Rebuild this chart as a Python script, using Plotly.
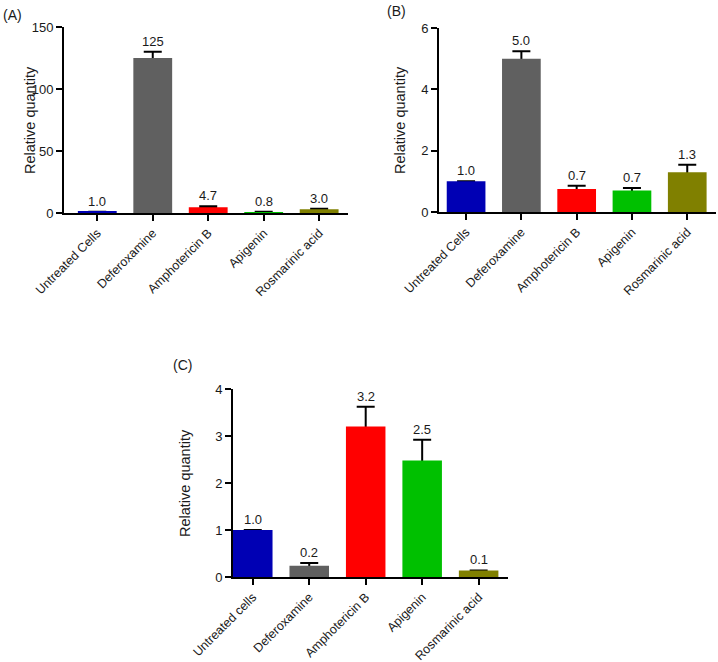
import plotly.graph_objects as go

# treatment groups (panel C writes "cells" in lower case)
groups_ab = ["Untreated Cells", "Deferoxamine", "Amphotericin B", "Apigenin", "Rosmarinic acid"]
groups_c = ["Untreated cells", "Deferoxamine", "Amphotericin B", "Apigenin", "Rosmarinic acid"]
bar_colors = ["#0000b4", "#606060", "#ff0000", "#00c000", "#808000"]

# panel A
mean_a = [1.0, 125, 4.7, 0.8, 3.0]
err_a = [None, 5, 0.8, 0.2, 0.4]
label_a = ["1.0", "125", "4.7", "0.8", "3.0"]

# panel B
mean_b = [1.0, 5.0, 0.75, 0.7, 1.3]
err_b = [None, 0.24, 0.11, 0.08, 0.24]
label_b = ["1.0", "5.0", "0.7", "0.7", "1.3"]

# panel C
mean_c = [1.0, 0.24, 3.2, 2.48, 0.14]
err_c = [None, 0.06, 0.42, 0.44, None]
label_c = ["1.0", "0.2", "3.2", "2.5", "0.1"]

W, H = 718, 662
FONT = "Arial, Liberation Sans, sans-serif"
TXT = "#1a1a1a"


def px_x(v):
    return v / W


def px_y(v):
    return 1 - v / H


# pixel boxes of each plot area: (left, right, top, bottom)
panels = [
    dict(name="(A)", cats=groups_ab, mean=mean_a, err=err_a, labels=label_a,
         box=(64, 348, 27, 213), yrange=[0, 150], dtick=50, xrange=[-0.6, 4.52],
         tag=(1, 15), title_x=30),
    dict(name="(B)", cats=groups_ab, mean=mean_b, err=err_b, labels=label_b,
         box=(439, 716, 28, 212), yrange=[0, 6], dtick=2, xrange=[-0.49, 4.52],
         tag=(385, 11), title_x=400),
    dict(name="(C)", cats=groups_c, mean=mean_c, err=err_c, labels=label_c,
         box=(233, 508, 389, 577), yrange=[0, 4], dtick=1, xrange=[-0.35, 4.52],
         tag=(171, 365), title_x=185),
]

fig = go.Figure()
annotations = []

for i, p in enumerate(panels, start=1):
    sfx = "" if i == 1 else str(i)
    xa, ya = "x" + sfx, "y" + sfx
    xo, yo = "x" + str(i + 3), "y" + str(i + 3)   # overlay axes for the bars
    l, r, t, b = p["box"]

    # error bars underneath (lower half hidden behind the bar)
    fig.add_trace(go.Scatter(
        x=p["cats"], y=p["mean"], xaxis=xa, yaxis=ya, mode="markers",
        marker=dict(size=1, opacity=0),
        error_y=dict(type="data", array=p["err"], symmetric=True,
                     color="black", thickness=2, width=9),
        showlegend=False, hoverinfo="skip",
    ))
    fig.add_trace(go.Bar(
        x=p["cats"], y=p["mean"], xaxis=xo, yaxis=yo,
        marker=dict(color=bar_colors, line=dict(width=0)),
        showlegend=False,
    ))

    # value labels above each bar / error cap
    for c, m, e, txt in zip(p["cats"], p["mean"], p["err"], p["labels"]):
        annotations.append(dict(
            x=c, y=m + (e or 0), xref=xa, yref=ya, text=txt, showarrow=False,
            yanchor="bottom", yshift=1, font=dict(family=FONT, size=13, color=TXT),
        ))

    # panel letter
    annotations.append(dict(
        x=px_x(p["tag"][0]), y=px_y(p["tag"][1]), xref="paper", yref="paper",
        text=p["name"], showarrow=False, xanchor="left", yanchor="middle",
        font=dict(family=FONT, size=14, color=TXT),
    ))

    # y-axis title
    annotations.append(dict(
        x=px_x(p["title_x"]), y=px_y((t + b) / 2), xref="paper", yref="paper",
        text="Relative quantity", textangle=-90, showarrow=False,
        xanchor="center", yanchor="middle",
        font=dict(family=FONT, size=14.5, color=TXT),
    ))

    xdom = [px_x(l), px_x(r)]
    ydom = [px_y(b), px_y(t)]
    fig.update_layout({
        "xaxis" + sfx: dict(
            domain=xdom, anchor=ya, range=p["xrange"], type="category", automargin=False,
            showline=True, linecolor="black", linewidth=2, ticks="outside",
            ticklen=6, tickwidth=2, tickcolor="black", tickangle=-45,
            tickfont=dict(family=FONT, size=12.5, color=TXT), showgrid=False, zeroline=False,
        ),
        "yaxis" + sfx: dict(
            domain=ydom, anchor=xa, range=p["yrange"], dtick=p["dtick"], automargin=False,
            showline=True, linecolor="black", linewidth=2, ticks="outside",
            ticklen=6, tickwidth=2, tickcolor="black",
            tickfont=dict(family=FONT, size=13, color=TXT), showgrid=False, zeroline=False,
        ),
        "xaxis" + str(i + 3): dict(
            domain=xdom, anchor=yo, overlaying=xa, range=p["xrange"], type="category",
            visible=False, automargin=False,
        ),
        "yaxis" + str(i + 3): dict(
            domain=ydom, anchor=xo, overlaying=ya, range=p["yrange"],
            visible=False, automargin=False,
        ),
    })

fig.update_layout(
    width=W, height=H, margin=dict(l=0, r=0, t=0, b=0),
    paper_bgcolor="white", plot_bgcolor="rgba(0,0,0,0)",
    bargap=0.3, annotations=annotations,
)

# drop the browser's default 8px body margin so the figure fills the window
fig.write_html("out.html", config={"displayModeBar": False},
               post_script="document.body.style.margin='0px';")
